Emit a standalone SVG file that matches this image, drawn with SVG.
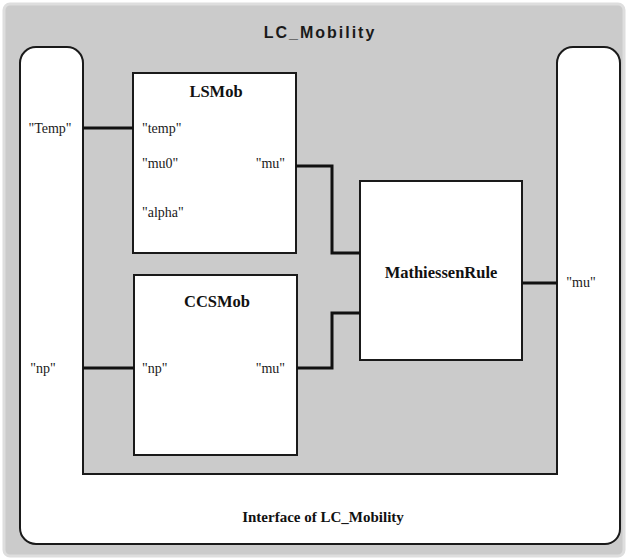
<svg xmlns="http://www.w3.org/2000/svg" width="628" height="560" viewBox="0 0 628 560">
<style>
.box{fill:#ffffff;stroke:#1a1a1a;stroke-width:2}
.wire{fill:none;stroke:#111;stroke-width:3}
.lbl{font-family:"Liberation Serif","Times New Roman",serif;font-size:14px;fill:#1a1a1a}
.ttl{font-family:"Liberation Serif","Times New Roman",serif;font-size:16.5px;font-weight:bold;fill:#111}
</style>
<rect x="0" y="0" width="628" height="560" fill="#ffffff"/>
<rect id="background" x="4" y="4" width="620" height="552" rx="6" fill="#cbcbcb" stroke="#dedede" stroke-width="3"/>
<text x="320" y="38" text-anchor="middle" font-family="'Liberation Sans',Arial,sans-serif" font-size="16" font-weight="bold" letter-spacing="2" fill="#1a1a1a">LC_Mobility</text>
<g id="interface">
<path class="box" d="M20,63 A16,16 0 0 1 36,47 L67,47 A16,16 0 0 1 83,63 L83,474 L557,474 L557,63 A16,16 0 0 1 573,47 L604,47 A16,16 0 0 1 620,63 L620,529 A15,15 0 0 1 605,544 L36,544 A16,16 0 0 1 20,528 Z"/>
<text class="lbl" x="50" y="133" text-anchor="middle">"Temp"</text>
<text class="lbl" x="43" y="373" text-anchor="middle">"np"</text>
<text class="lbl" x="581" y="287" text-anchor="middle">"mu"</text>
<text x="323" y="522" text-anchor="middle" font-family="'Liberation Serif','Times New Roman',serif" font-size="15" font-weight="bold" fill="#111">Interface of LC_Mobility</text>
</g>
<g id="LSMob">
<rect class="box" x="133" y="73" width="163" height="180"/>
<text class="ttl" x="216" y="97" text-anchor="middle">LSMob</text>
<text class="lbl" x="142" y="133">"temp"</text>
<text class="lbl" x="142" y="168">"mu0"</text>
<text class="lbl" x="142" y="217">"alpha"</text>
<text class="lbl" x="285" y="168" text-anchor="end">"mu"</text>
</g>
<g id="CCSMob">
<rect class="box" x="134" y="275" width="163" height="180"/>
<text class="ttl" x="217" y="307" text-anchor="middle">CCSMob</text>
<text class="lbl" x="142" y="373">"np"</text>
<text class="lbl" x="285" y="373" text-anchor="end">"mu"</text>
</g>
<g id="MathiessenRule">
<rect class="box" x="360" y="181" width="162" height="179"/>
<text class="ttl" x="441" y="278" text-anchor="middle">MathiessenRule</text>
</g>
<g id="connectors">
<path class="wire" d="M83,128 L133,128"/>
<path class="wire" d="M83,368 L134,368"/>
<path class="wire" d="M296,166 L332,166 L332,253 L360,253"/>
<path class="wire" d="M297,368 L332,368 L332,313 L360,313"/>
<path class="wire" d="M522,283 L557,283"/>
</g>
</svg>
